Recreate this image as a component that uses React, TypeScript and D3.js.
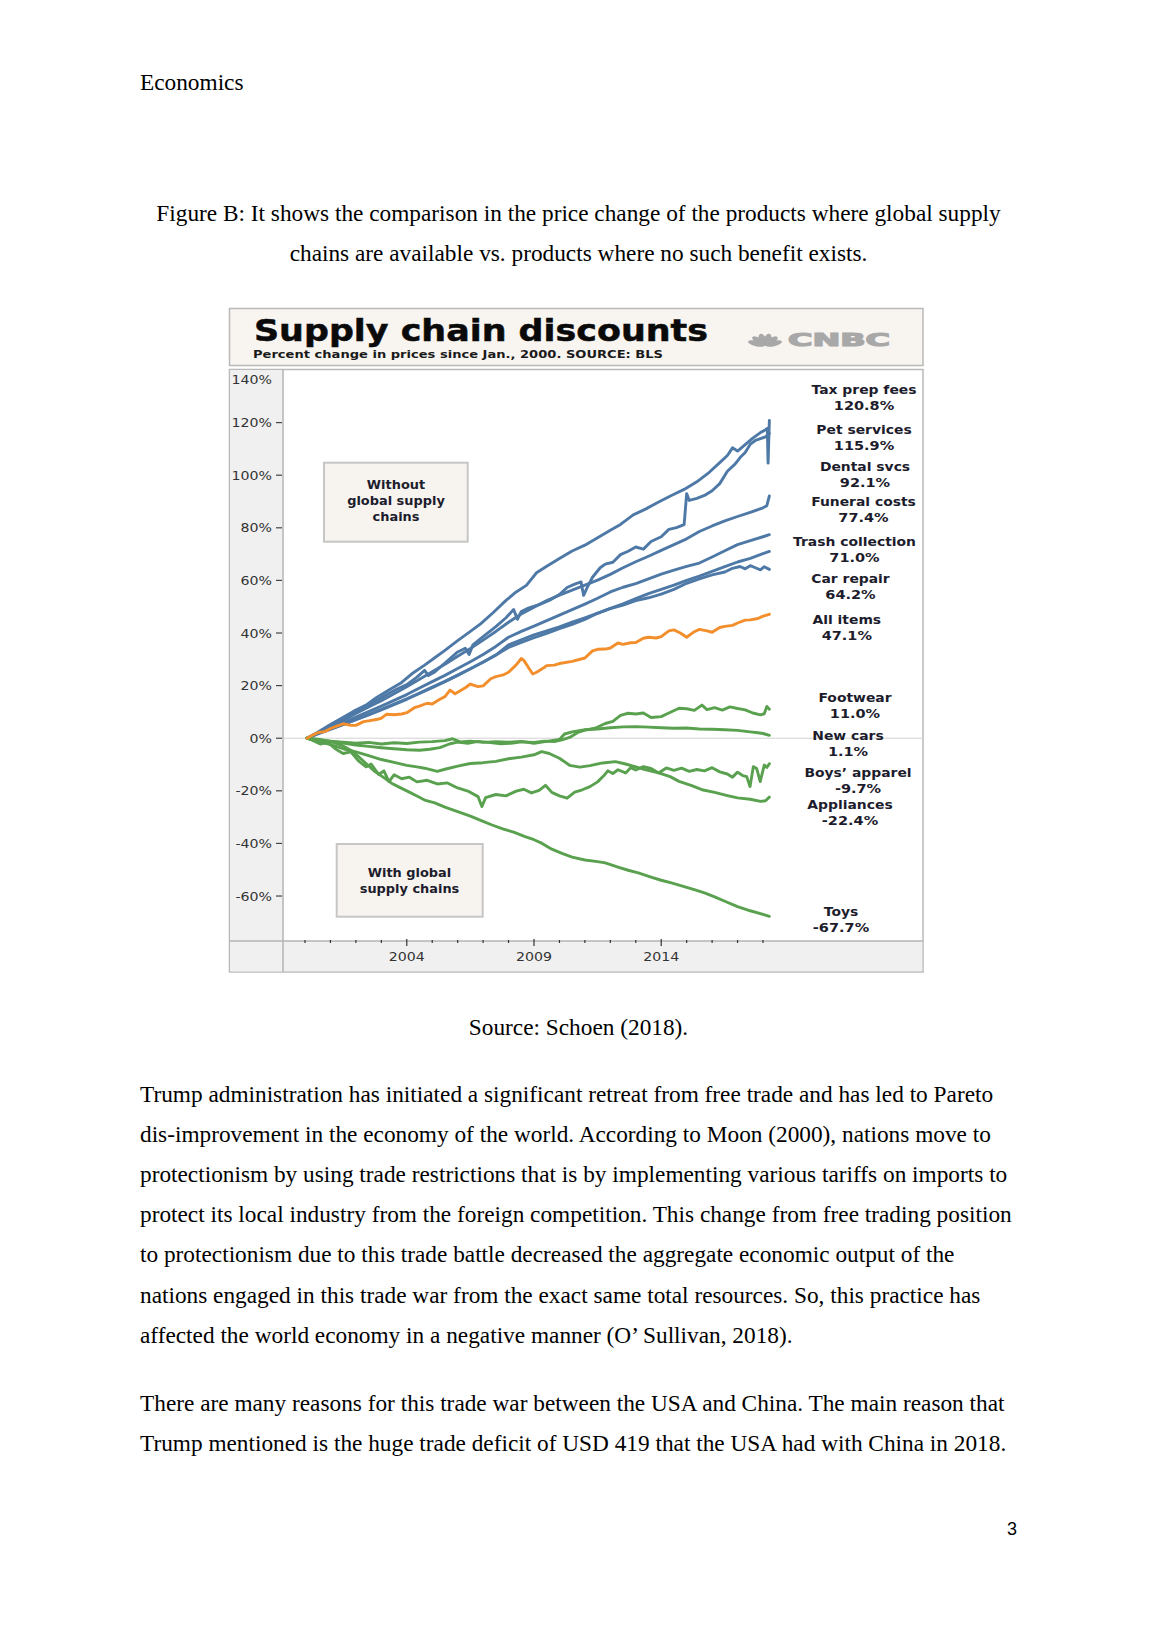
import React from 'react';
import * as d3 from 'd3';

type Pt = [number, number];

// ---------- DATA (percent change since Jan 2000) ----------
const taxPrep: Pt[] = [[2000.08,0],[2000.5,2.3],[2001,5.2],[2001.4,7.4],[2001.9,10.2],[2002.4,12.6],[2002.8,15.4],[2003.3,18.3],[2003.8,21.2],[2004.2,24.5],[2004.7,27.8],[2005.1,30.6],[2005.5,33.4],[2006,37.1],[2006.5,40.6],[2006.9,43.5],[2007.4,47.8],[2007.9,52.4],[2008.3,55.6],[2008.7,58.1],[2009.1,62.9],[2009.5,65.4],[2010,68.3],[2010.5,71.2],[2011,73.4],[2011.5,76.2],[2012,79.1],[2012.4,81.3],[2012.9,84.9],[2013.4,87.2],[2013.9,89.8],[2014.4,92.3],[2014.9,94.6],[2015.4,97.5],[2015.9,101.2],[2016.3,104.8],[2016.6,107.5],[2016.8,110.4],[2017.0,109.2],[2017.3,111.6],[2017.6,114.1],[2017.9,116.2],[2018.1,117.3],[2018.17,117.8],[2018.2,104.6],[2018.25,120.8]];
const petServices: Pt[] = [[2000.08,0],[2000.5,2],[2001,4.6],[2001.4,7],[2001.9,9.3],[2002.3,11.8],[2002.8,14.2],[2003.2,16.5],[2003.6,18.6],[2004,20.4],[2004.4,23.2],[2004.7,25.8],[2004.85,23.8],[2005.1,25.2],[2005.5,28.6],[2006,32.8],[2006.3,34.2],[2006.45,31.8],[2006.6,35.5],[2007,38.6],[2007.5,42.4],[2007.9,45.8],[2008.2,48.9],[2008.35,45.2],[2008.5,48.2],[2008.8,49.6],[2009.2,50.8],[2009.6,52.4],[2010,54.6],[2010.3,57.3],[2010.6,58.6],[2010.85,59.4],[2010.95,54.3],[2011.1,57.5],[2011.3,61.2],[2011.6,64.8],[2011.8,66.2],[2012.1,66.9],[2012.4,69.8],[2012.7,71.1],[2013,72.7],[2013.3,71.9],[2013.6,74.8],[2014,76.6],[2014.3,79.4],[2014.6,80.1],[2014.9,81.2],[2015.0,93],[2015.1,90.4],[2015.4,91.2],[2015.7,92.3],[2016,94.1],[2016.3,96.8],[2016.6,101.5],[2016.9,104.2],[2017.1,106.7],[2017.3,108.6],[2017.5,111.8],[2017.7,113.2],[2017.9,113.9],[2018.1,114.6],[2018.25,115.9]];
const dental: Pt[] = [[2000.08,0],[2000.5,2],[2001,4.3],[2001.5,6.8],[2002,9.4],[2002.5,11.9],[2003,14.3],[2003.5,16.9],[2004,19.6],[2004.5,22.4],[2005,25.3],[2005.5,28.1],[2006,31.2],[2006.5,34.1],[2007,37.3],[2007.5,40.6],[2008,44.1],[2008.5,47.2],[2009,49.8],[2009.5,52.3],[2010,54.4],[2010.5,56.3],[2011,58.2],[2011.5,60.1],[2012,62.3],[2012.5,64.8],[2013,67.1],[2013.5,69.2],[2014,71.4],[2014.5,73.6],[2015,75.8],[2015.5,78.6],[2016,80.7],[2016.5,82.6],[2017,84.3],[2017.5,85.9],[2018,87.6],[2018.15,88.4],[2018.25,92.1]];
const funeral: Pt[] = [[2000.08,0],[2000.5,1.8],[2001,3.9],[2001.5,5.9],[2002,8],[2002.5,10.1],[2003,12.2],[2003.5,14.4],[2004,16.6],[2004.5,19.1],[2005,21.5],[2005.5,23.9],[2006,26.5],[2006.5,29.1],[2007,31.8],[2007.5,34.9],[2008,38.4],[2008.5,40.6],[2009,42.6],[2009.5,44.7],[2010,46.8],[2010.5,48.9],[2011,51],[2011.5,53.2],[2012,55.6],[2012.5,57.4],[2013,58.8],[2013.5,60.6],[2014,62.4],[2014.5,63.9],[2015,65.3],[2015.5,66.6],[2016,68.9],[2016.5,71.3],[2017,73.6],[2017.5,75.1],[2018,76.6],[2018.25,77.4]];
const trash: Pt[] = [[2000.08,0],[2000.5,1.7],[2001,3.5],[2001.5,5.3],[2002,7.1],[2002.5,8.9],[2003,10.8],[2003.5,12.8],[2004,14.8],[2004.5,17],[2005,19.2],[2005.5,21.5],[2006,23.9],[2006.5,26.4],[2007,28.9],[2007.5,31.6],[2008,35.5],[2008.5,37.4],[2009,39.3],[2009.5,40.8],[2010,42.3],[2010.5,44.1],[2011,45.8],[2011.5,47.6],[2012,49.4],[2012.5,51.1],[2013,53.1],[2013.5,55],[2014,56.6],[2014.5,58.2],[2015,60],[2015.5,61.6],[2016,63.4],[2016.5,65.2],[2017,67],[2017.5,68.4],[2018,70.2],[2018.25,71]];
const carRepair: Pt[] = [[2000.08,0],[2000.5,1.6],[2001,3.4],[2001.5,5.2],[2002,7.1],[2002.5,9],[2003,11],[2003.5,13],[2004,15],[2004.5,17.2],[2005,19.4],[2005.5,21.6],[2006,24],[2006.5,26.4],[2007,29],[2007.5,31.6],[2008,34.5],[2008.5,36.4],[2009,38.2],[2009.5,39.9],[2010,41.7],[2010.5,43.3],[2011,45.2],[2011.5,47.5],[2012,49.3],[2012.5,50.6],[2013,52.3],[2013.5,53.4],[2014,54.8],[2014.5,56.6],[2015,58.9],[2015.5,60.6],[2016,62.1],[2016.5,63.2],[2016.8,64.6],[2017.1,65.3],[2017.3,64.4],[2017.5,65.6],[2017.7,64.8],[2017.9,64],[2018.05,65.2],[2018.25,64.2]];
const allItems: Pt[] = [[2000.08,0],[2000.3,1.2],[2000.5,2.1],[2000.8,2.6],[2001,3.7],[2001.3,4.8],[2001.5,5.5],[2001.8,4.9],[2002,4.9],[2002.3,6.3],[2002.5,6.6],[2002.8,7.1],[2003,7.6],[2003.2,9.1],[2003.5,8.9],[2003.8,9.2],[2004,9.7],[2004.3,11.6],[2004.5,12.2],[2004.8,13.3],[2005,13],[2005.3,14.8],[2005.5,15.8],[2005.7,18.3],[2005.9,16.9],[2006,17.5],[2006.3,19.2],[2006.5,20.6],[2006.8,19.6],[2007,19.9],[2007.3,22.6],[2007.5,23.4],[2007.8,24.1],[2008,25.1],[2008.3,27.9],[2008.5,30.3],[2008.6,29.6],[2008.8,26.6],[2008.95,24.4],[2009.1,25.1],[2009.4,26.9],[2009.5,27.6],[2009.8,27.8],[2010,28.4],[2010.5,29.2],[2011,30.5],[2011.3,33.2],[2011.5,33.8],[2011.8,33.9],[2012,34.3],[2012.3,36.2],[2012.5,35.7],[2012.8,36.3],[2013,36.4],[2013.3,38],[2013.5,38.4],[2013.8,38.1],[2014,38.6],[2014.3,40.8],[2014.5,41.2],[2014.75,40],[2015,38.4],[2015.3,40.5],[2015.5,41.4],[2015.8,40.8],[2016,40.3],[2016.3,42.1],[2016.5,42.5],[2016.8,42.9],[2017,43.8],[2017.3,44.9],[2017.5,45],[2017.8,45.5],[2018,46.4],[2018.25,47.1]];
const footwear: Pt[] = [[2000.08,0],[2000.5,-0.4],[2001,-1.1],[2001.5,-1.8],[2002,-2.6],[2002.5,-3.1],[2003,-3.6],[2003.5,-4],[2004,-4.4],[2004.5,-4.6],[2004.9,-4.2],[2005.3,-3.6],[2005.7,-2.1],[2006,-1.5],[2006.4,-1.9],[2006.8,-1.2],[2007.2,-1.6],[2007.7,-2.1],[2008.1,-1.9],[2008.5,-1.4],[2009,-1.6],[2009.4,-1.1],[2009.8,-1.3],[2010.1,-0.6],[2010.4,0.3],[2010.7,2.1],[2011,3.1],[2011.4,3.8],[2011.8,5.6],[2012.1,6.4],[2012.4,8.7],[2012.7,9.5],[2013,9.2],[2013.3,9.6],[2013.6,7.9],[2014,8.2],[2014.3,9.6],[2014.7,11.4],[2015,11.2],[2015.3,10.6],[2015.6,12.6],[2015.8,10.9],[2016.1,11.6],[2016.4,10.7],[2016.7,11.9],[2017,11.3],[2017.3,10.8],[2017.6,9.6],[2017.9,8.9],[2018.05,9.3],[2018.15,12.1],[2018.25,11]];
const newCars: Pt[] = [[2000.08,0],[2000.5,-0.6],[2001,-1.2],[2001.5,-1.5],[2002,-1.9],[2002.5,-1.6],[2003,-2.2],[2003.5,-1.7],[2004,-2],[2004.5,-1.5],[2005,-1.3],[2005.5,-0.9],[2005.8,-0.2],[2006.1,-1.4],[2006.5,-1.1],[2007,-1.6],[2007.5,-1.3],[2008,-1.5],[2008.5,-1.2],[2009,-1.9],[2009.5,-1.2],[2010,-0.5],[2010.2,1.6],[2010.5,2.4],[2011,3.2],[2011.5,3.5],[2012,4],[2012.5,4.3],[2013,4.4],[2013.5,4.2],[2014,4],[2014.5,3.8],[2015,3.9],[2015.5,3.5],[2016,3.4],[2016.5,3.2],[2017,3],[2017.5,2.4],[2017.8,2.1],[2018,1.8],[2018.25,1.1]];
const boysApparel: Pt[] = [[2000.08,0],[2000.3,-0.8],[2000.6,-2.2],[2000.9,-1.6],[2001.2,-4.1],[2001.5,-5.8],[2001.8,-5.2],[2002.1,-8.6],[2002.4,-10.9],[2002.6,-9.8],[2002.9,-13.8],[2003.1,-12.4],[2003.3,-16.5],[2003.5,-13.9],[2003.8,-15.4],[2004.1,-14.8],[2004.4,-16.6],[2004.8,-16],[2005.2,-17.4],[2005.6,-17],[2006,-18.9],[2006.4,-20.1],[2006.8,-22.2],[2006.95,-26],[2007.1,-22.6],[2007.5,-21.4],[2007.9,-21.9],[2008.3,-20.1],[2008.6,-19.4],[2008.9,-20.8],[2009.2,-19.8],[2009.45,-17.9],[2009.7,-20.6],[2010,-21.9],[2010.3,-22.8],[2010.6,-20.5],[2010.9,-19.6],[2011.2,-18.4],[2011.5,-16.6],[2011.75,-14.2],[2011.9,-12.4],[2012.1,-13.4],[2012.3,-12],[2012.6,-13.2],[2012.8,-11.2],[2013,-12.1],[2013.3,-10.8],[2013.6,-11.5],[2013.9,-13.2],[2014.2,-11.3],[2014.5,-12.2],[2014.8,-11.4],[2015.1,-12.6],[2015.4,-11.9],[2015.7,-12.4],[2016,-11.2],[2016.3,-12.8],[2016.6,-13.6],[2016.8,-14.8],[2017.0,-12.9],[2017.2,-14.2],[2017.36,-14.6],[2017.49,-18.4],[2017.62,-10.8],[2017.75,-11.5],[2017.89,-16.5],[2018.05,-10.2],[2018.15,-11.1],[2018.25,-9.7]];
const appliances: Pt[] = [[2000.08,0],[2000.5,-1.2],[2001,-2.4],[2001.5,-4],[2002,-5.2],[2002.5,-6.6],[2003,-8.1],[2003.5,-9.2],[2004,-10.3],[2004.4,-10.9],[2004.7,-11.4],[2005.2,-12.6],[2005.5,-11.8],[2006,-10.6],[2006.5,-9.6],[2007,-9.3],[2007.5,-8.8],[2008,-7.8],[2008.5,-7.2],[2009,-6.3],[2009.3,-5.1],[2009.6,-5.8],[2010,-7.6],[2010.4,-10.3],[2010.8,-11],[2011.2,-10.4],[2011.7,-9.4],[2012.2,-8.9],[2012.6,-9.8],[2013,-10.9],[2013.4,-12],[2013.9,-13.2],[2014.35,-14.6],[2014.7,-16.4],[2015.2,-18],[2015.65,-19.7],[2016.1,-20.6],[2016.6,-21.8],[2017,-22.7],[2017.5,-23.2],[2017.9,-24],[2018.1,-23.8],[2018.25,-22.4]];
const toys: Pt[] = [[2000.08,0],[2000.4,-0.6],[2000.8,-1.3],[2001.1,-1.6],[2001.44,-2.7],[2001.8,-4.6],[2002.1,-7],[2002.4,-9.6],[2002.75,-12.7],[2003.1,-15],[2003.4,-17.1],[2003.7,-18.6],[2004.06,-20.3],[2004.4,-22],[2004.7,-23.5],[2005.1,-24.6],[2005.5,-26.2],[2006,-27.9],[2006.5,-29.6],[2007,-31.6],[2007.35,-33],[2007.8,-34.6],[2008.2,-35.7],[2008.65,-37.4],[2009,-38.6],[2009.3,-39.9],[2009.7,-42.2],[2010.1,-43.8],[2010.5,-45.2],[2011,-46.3],[2011.5,-46.9],[2011.8,-47.4],[2012.3,-49],[2012.7,-50.2],[2013.1,-51.2],[2013.6,-52.8],[2014,-54],[2014.4,-55],[2014.9,-56.4],[2015.3,-57.6],[2015.7,-58.8],[2016.1,-60.3],[2016.5,-62],[2017,-64],[2017.5,-65.6],[2018,-67],[2018.25,-67.7]];

const seriesNames = ['Tax prep fees','Pet services','Dental svcs','Funeral costs','Trash collection','Car repair','All items','Footwear','New cars',"Boys\u2019 apparel",'Appliances','Toys'];
const endValueLabels = ['120.8%','115.9%','92.1%','77.4%','71.0%','64.2%','47.1%','11.0%','1.1%','-9.7%','-22.4%','-67.7%'];
const seriesGroups = ['without','without','without','without','without','without','all','with','with','with','with','with'];
const seriesData: Pt[][] = [taxPrep, petServices, dental, funeral, trash, carRepair, allItems, footwear, newCars, boysApparel, appliances, toys];

const yTicks = [140, 120, 100, 80, 60, 40, 20, 0, -20, -40, -60];
const yearTicks = d3.range(2000, 2019);
const yearLabels = [2004, 2009, 2014];

// ---------- LAYOUT / STYLE ----------
const COLORS: Record<string, string> = { without: '#4e79a7', all: '#f28e2b', with: '#59a14f' };
// right-hand label placement: centre x (px) and anchor value (data units)
const labelLayout = [
  { cx: 864, v: 129.4 }, { cx: 864, v: 114.2 }, { cx: 865, v: 100.2 }, { cx: 863.5, v: 86.6 },
  { cx: 854.5, v: 71.4 }, { cx: 850.5, v: 57.4 }, { cx: 846.8, v: 41.9 }, { cx: 855, v: 12.3 },
  { cx: 848, v: -2.2 }, { cx: 858, v: -16.1 }, { cx: 850, v: -28.4 }, { cx: 841, v: -69.0 },
];

const SERIF = '"Liberation Serif", "Times New Roman", serif';
const SANS = '"DejaVu Sans", Verdana, sans-serif';

const bodyLines1 = [
  'Trump administration has initiated a significant retreat from free trade and has led to Pareto',
  'dis-improvement in the economy of the world. According to Moon (2000), nations move to',
  'protectionism by using trade restrictions that is by implementing various tariffs on imports to',
  'protect its local industry from the foreign competition. This change from free trading position',
  'to protectionism due to this trade battle decreased the aggregate economic output of the',
  'nations engaged in this trade war from the exact same total resources. So, this practice has',
  'affected the world economy in a negative manner (O\u2019 Sullivan, 2018).',
];
const bodyLines2 = [
  'There are many reasons for this trade war between the USA and China. The main reason that',
  'Trump mentioned is the huge trade deficit of USD 419 that the USA had with China in 2018.',
];

const SText: React.FC<{ x: number; y: number; sx?: number; anchor?: string; size: number; weight?: string | number; fill?: string; family?: string; children: React.ReactNode }> =
  ({ x, y, sx = 1, anchor = 'start', size, weight = 'normal', fill = '#000', family = SANS, children }) => (
    <text transform={`translate(${x},${y}) scale(${sx},1)`} textAnchor={anchor as any} fontSize={size} fontWeight={weight as any} fill={fill} fontFamily={family}>{children}</text>
  );

export default function App() {
  const x = d3.scaleLinear().domain([2000, 2018]).range([305, 763]);
  const y = d3.scaleLinear().domain([-77.1, 140]).range([941, 370]);
  const line = d3.line<Pt>().x(d => x(d[0])).y(d => y(d[1]));

  const L = 229.5, R = 923, plotTop = 369.5, plotBottom = 972, axisY = 941, yPanelR = 283;
  const order = [0, 1, 2, 3, 4, 5, 7, 8, 9, 10, 11, 6];

  return (
    <svg width={1158} height={1638} style={{ position: 'absolute', left: 0, top: 0, background: '#fff' }}>
      <rect x={0} y={0} width={1158} height={1638} fill="#fff" />
      {/* document text */}
      <text x={140} y={90} fontFamily={SERIF} fontSize={23.3}>Economics</text>
      <text x={578.5} y={220.5} fontFamily={SERIF} fontSize={23.3} textAnchor="middle">Figure B: It shows the comparison in the price change of the products where global supply</text>
      <text x={578.5} y={261} fontFamily={SERIF} fontSize={23.3} textAnchor="middle">chains are available vs. products where no such benefit exists.</text>
      <text x={578.5} y={1035} fontFamily={SERIF} fontSize={23.3} textAnchor="middle">Source: Schoen (2018).</text>
      {bodyLines1.map((t, i) => (
        <text key={'a' + i} x={140} y={1101.6 + i * 40.2} fontFamily={SERIF} fontSize={23.3}>{t}</text>
      ))}
      {bodyLines2.map((t, i) => (
        <text key={'b' + i} x={140} y={1410.7 + i * 40.7} fontFamily={SERIF} fontSize={23.3}>{t}</text>
      ))}
      <text x={1017} y={1535} fontFamily={'"Liberation Sans", Arial, sans-serif'} fontSize={18} textAnchor="end">3</text>

      {/* chart header */}
      <rect x={L} y={308.5} width={R - L} height={57} fill="#f8f4f0" stroke="#b9b9b9" strokeWidth={1.5} />
      <text x={254} y={340.5} fontFamily={SANS} fontWeight="bold" fontSize={30} textLength={454} lengthAdjust="spacingAndGlyphs" fill="#0a0a0a" stroke="#0a0a0a" strokeWidth={0.5}>Supply chain discounts</text>
      <text x={253} y={358} fontFamily={SANS} fontWeight="bold" fontSize={11} textLength={410} lengthAdjust="spacingAndGlyphs" fill="#1a1a1a">Percent change in prices since Jan., 2000. SOURCE: BLS</text>
      {/* CNBC logo */}
      <g transform="translate(765,346) scale(1.45,1)" fill="#a8a8a8">
        {[-68, -42, -14, 14, 42, 68].map((a, i) => (
          <ellipse key={i} cx={0} cy={-6.5} rx={2.6} ry={6} transform={`rotate(${a})`} />
        ))}
      </g>
      <text x={788} y={346} fontFamily={SANS} fontWeight="bold" fontSize={17} textLength={102} lengthAdjust="spacingAndGlyphs" fill="#a8a8a8" stroke="#a8a8a8" strokeWidth={1.2}>CNBC</text>

      {/* plot frame */}
      <rect x={L} y={plotTop} width={R - L} height={plotBottom - plotTop} fill="#fff" stroke="#b9b9b9" strokeWidth={1.5} />
      <rect x={L + 0.75} y={plotTop + 0.75} width={yPanelR - L - 0.75} height={plotBottom - plotTop - 1.5} fill="#f0f0f0" />
      <rect x={L + 0.75} y={axisY} width={R - L - 1.5} height={plotBottom - axisY - 0.75} fill="#f0f0f0" />
      <line x1={yPanelR} x2={yPanelR} y1={plotTop} y2={plotBottom} stroke="#b4b4b4" strokeWidth={1.5} />
      <line x1={L} x2={R} y1={axisY} y2={axisY} stroke="#b4b4b4" strokeWidth={1.5} />

      {/* zero line */}
      <line x1={yPanelR} x2={R} y1={y(0)} y2={y(0)} stroke="#d2d2d2" strokeWidth={1} />

      {/* y axis */}
      {yTicks.map(t => (
        <g key={t}>
          {t < 140 && <line x1={276} x2={282} y1={y(t)} y2={y(t)} stroke="#444" strokeWidth={1.2} />}
          <SText x={272} y={Math.max(y(t) + 4.5, 383.5)} anchor="end" size={11.8} sx={1.2} fill="#333">{`${t}%`}</SText>
        </g>
      ))}
      {/* x axis */}
      {yearTicks.map(t => (
        <line key={t} x1={x(t)} x2={x(t)} y1={yearLabels.includes(t) ? 939 : 940} y2={yearLabels.includes(t) ? 946 : 943} stroke="#333" strokeWidth={1.2} />
      ))}
      {yearLabels.map(t => (
        <SText key={t} x={x(t)} y={961} anchor="middle" size={11.8} sx={1.2} fill="#333">{String(t)}</SText>
      ))}

      {/* annotation boxes */}
      <rect x={324} y={462.7} width={143.7} height={79} fill="#f7f3ef" stroke="#c6c6c6" strokeWidth={2} />
      {['Without', 'global supply', 'chains'].map((t, i) => (
        <SText key={t} x={396} y={489 + i * 16.2} anchor="middle" size={12.3} sx={1.05} weight="bold" fill="#1c1c2c">{t}</SText>
      ))}
      <rect x={336.7} y={844} width={146} height={72.7} fill="#f7f3ef" stroke="#c6c6c6" strokeWidth={2} />
      {['With global', 'supply chains'].map((t, i) => (
        <SText key={t} x={409.5} y={877 + i * 16} anchor="middle" size={12.3} sx={1.05} weight="bold" fill="#1c1c2c">{t}</SText>
      ))}

      {/* series lines */}
      {order.map(i => (
        <path key={seriesNames[i]} d={line(seriesData[i]) || ''} fill="none" stroke={COLORS[seriesGroups[i]]} strokeWidth={2.9} strokeLinejoin="round" strokeLinecap="round" />
      ))}

      {/* right-hand labels */}
      {seriesNames.map((n, i) => {
        const cy = y(labelLayout[i].v);
        return (
          <g key={'lab' + i}>
            <SText x={labelLayout[i].cx} y={cy - 4} anchor="middle" size={12.3} sx={1.13} weight="bold" fill="#1c1c2c">{n}</SText>
            <SText x={labelLayout[i].cx} y={cy + 12} anchor="middle" size={12.3} sx={1.18} weight="bold" fill="#1c1c2c">{endValueLabels[i]}</SText>
          </g>
        );
      })}
    </svg>
  );
}
